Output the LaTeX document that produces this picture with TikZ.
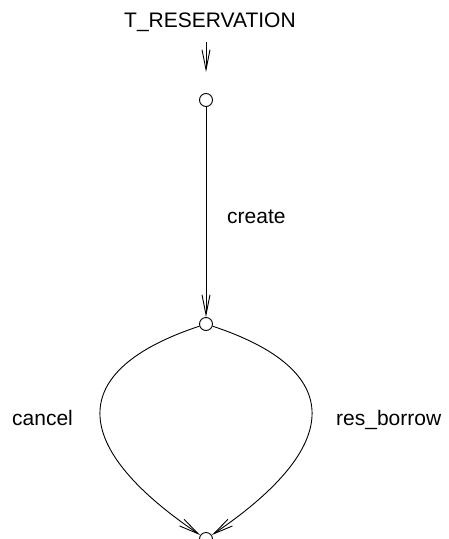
\documentclass[tikz,border=0pt]{standalone}
\usepackage{fontspec}
\setmainfont{Liberation Sans}
\usetikzlibrary{arrows.meta}
\begin{document}
\begin{tikzpicture}[x=1pt,y=-1pt,
  state/.style={circle,draw,line width=0.9pt,minimum size=13pt,inner sep=0pt},
  lbl/.style={font=\fontsize{21}{24}\selectfont,inner sep=0pt,anchor=base west},
  edge/.style={line width=0.9pt,-{Straight Barb[length=20pt,width=8pt,line width=0.9pt]}},
  curve/.style={line width=0.9pt}]
\useasboundingbox (0,0) rectangle (448,539);
\node[lbl] (title) at (124,27) {T\_RESERVATION};
\coordinate (s0) at (206,42);
\coordinate (s1) at (206,72);
\node[state] (t) at (206,100) {};
\node[state] (m) at (206,324) {};
\node[state] (b) at (206,539) {};
\node[lbl] (create) at (227,223) {create};
\node[lbl] (cancel) at (12,425) {cancel};
\node[lbl] (resb) at (336,425) {res\_borrow};
\draw[edge] (s0) -- (s1);
\draw[edge] (t) -- (m);
\draw[edge] (m) .. controls (67,370) and (67,445) .. (b);
\draw[edge] (m) .. controls (345,370) and (345,445) .. (b);
\end{tikzpicture}
\end{document}
